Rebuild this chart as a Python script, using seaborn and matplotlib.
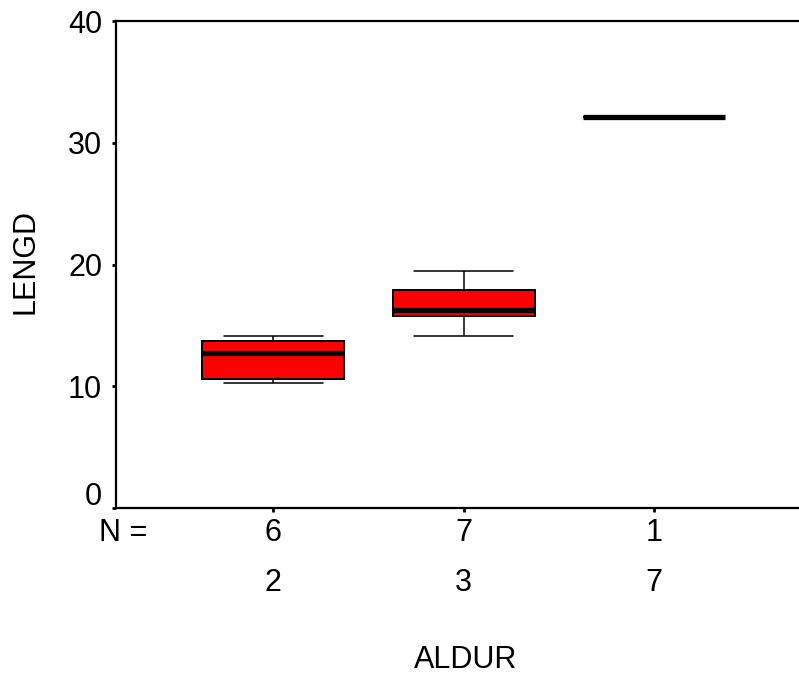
import matplotlib
matplotlib.use("Agg")
import matplotlib.pyplot as plt
import matplotlib.transforms as mtransforms
import seaborn as sns
import pandas as pd

# 그룹(ALDUR), 그룹별 N, 그림에서 읽은 5수 요약값(LENGD)
groups = ["2", "3", "7"]
n_counts = [6, 7, 1]
lengd_2 = [10.3, 10.6, 12.7, 13.7, 14.1]
lengd_3 = [14.1, 15.8, 16.3, 17.9, 19.5]
lengd_7 = [32.1]
y_ticks = [0, 10, 20, 30, 40]

sns.set_style("ticks")
plt.rcParams['font.family'] = ['Liberation Sans', 'DejaVu Sans']
plt.rcParams['text.color'] = 'black'
plt.rcParams['axes.labelcolor'] = 'black'
plt.rcParams['xtick.color'] = 'black'
plt.rcParams['ytick.color'] = 'black'

rows = []
for g, vals in zip(groups, [lengd_2, lengd_3, lengd_7]):
    for v in vals:
        rows.append({'ALDUR': g, 'LENGD': v})
df = pd.DataFrame(rows)

fig = plt.figure(figsize=(7.99, 6.76), dpi=100)
ax = fig.add_axes([0.1452, 0.2485, 0.8548, 0.7204])

sns.boxplot(data=df, x='ALDUR', y='LENGD', order=groups, ax=ax,
            color='#ff0000', saturation=1, width=0.744, whis=1.5,
            linecolor='black', linewidth=1.4, fliersize=0,
            medianprops=dict(linewidth=3.8, color='black'),
            whiskerprops=dict(linewidth=1.1),
            capprops=dict(linewidth=1.1),
            capwidths=0.518)

ax.set_xlim(-0.826, 2.76)
ax.set_ylim(0, 40)
ax.set_yticks(y_ticks)
ax.set_yticklabels([str(t) for t in y_ticks], fontsize=22)
ax.set_xticks(range(len(groups)))
ax.set_xticklabels([])
ax.tick_params(axis='both', length=3, width=2, color='black', direction='out')
ax.tick_params(axis='y', pad=7)

# 0 라벨은 축선 위로 약간 올림
lbl0 = ax.get_yticklabels()[0]
lbl0.set_transform(lbl0.get_transform() + mtransforms.ScaledTranslation(0, 15 / 100, fig.dpi_scale_trans))

for side in ['left', 'bottom', 'top']:
    ax.spines[side].set_linewidth(1.6)
    ax.spines[side].set_color('black')
ax.spines['right'].set_visible(False)

ax.set_xlabel('')
ax.set_ylabel('')
fig.text(25 / 799, 1 - 262 / 676, 'LENGD', rotation=90, ha='center', va='center', fontsize=22)

# N 행과 그룹 라벨 행
trans = mtransforms.blended_transform_factory(ax.transData, fig.transFigure)
ax.text(-0.79, 1 - 533 / 676, 'N =', transform=trans, ha='center', va='center', fontsize=22)
for i, (n, g) in enumerate(zip(n_counts, groups)):
    ax.text(i, 1 - 533 / 676, str(n), transform=trans, ha='center', va='center', fontsize=22)
    ax.text(i, 1 - 583 / 676, g, transform=trans, ha='center', va='center', fontsize=22)
ax.text(1.01, 1 - 660 / 676, 'ALDUR', transform=trans, ha='center', va='center', fontsize=22)

fig.savefig('out.png', dpi=100)
plt.close(fig)
